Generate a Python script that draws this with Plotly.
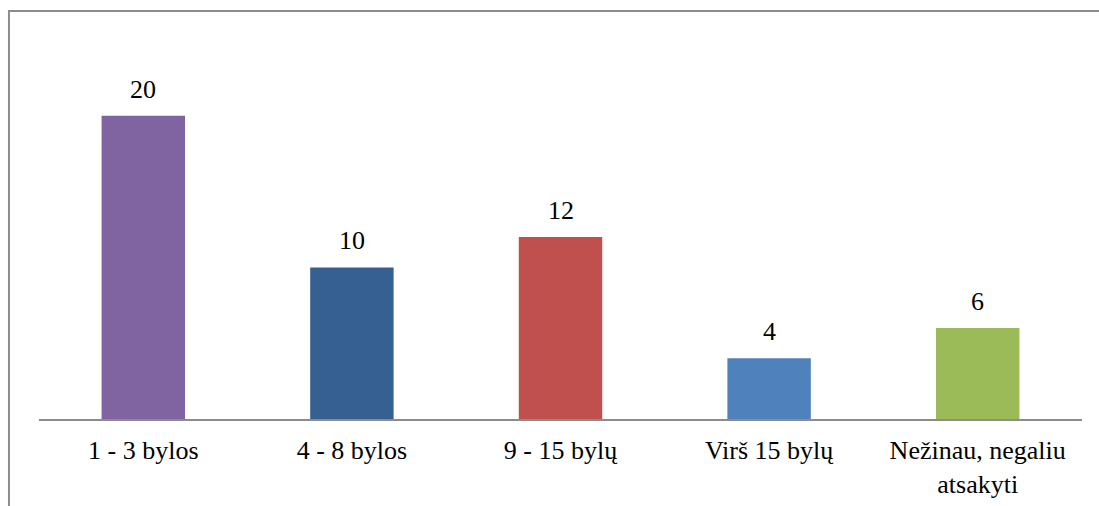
import plotly.graph_objects as go

categories = ["1 - 3 bylos", "4 - 8 bylos", "9 - 15 bylų", "Virš 15 bylų", "Nežinau, negaliu<br>atsakyti"]
values = [20, 10, 12, 4, 6]
colors = ["#8064A2", "#366092", "#C0504D", "#4F81BD", "#9BBB59"]

font_family = "Liberation Serif"

fig = go.Figure()
fig.add_trace(go.Bar(
    x=categories, y=values,
    marker=dict(color=colors, line=dict(width=0)),
    hoverinfo="skip",
))

for c, v in zip(categories, values):
    fig.add_annotation(
        x=c, y=v, text=str(v), showarrow=False,
        yanchor="bottom", yshift=10,
        font=dict(family=font_family, size=26, color="#000000"),
    )

# outer chart frame (left and top edges visible)
fig.add_shape(
    type="path", xref="paper", yref="paper",
    path="M -0.0288 -0.3 L -0.0288 1.0765 L 1.05 1.0765",
    line=dict(color="#8c8c8c", width=2),
)

fig.update_layout(
    width=1099, height=506,
    margin=dict(l=39, r=17, t=40, b=87, autoexpand=False),
    paper_bgcolor="white", plot_bgcolor="white",
    bargap=0.6,
    showlegend=False,
    font=dict(family=font_family, size=26, color="#000000"),
    xaxis=dict(
        showline=True, linecolor="#8c8c8c", linewidth=1.5,
        showgrid=False, zeroline=False, ticks="",
        ticklabelstandoff=7, automargin=False,
        tickfont=dict(family=font_family, size=26, color="#000000"),
        fixedrange=True,
    ),
    yaxis=dict(
        range=[0, 25], visible=False, showgrid=False, zeroline=False,
        fixedrange=True, automargin=False,
    ),
)

fig.write_html(
    "out.html",
    config={"displayModeBar": False},
    post_script="document.body.style.margin='0';document.body.style.overflow='hidden';",
)
